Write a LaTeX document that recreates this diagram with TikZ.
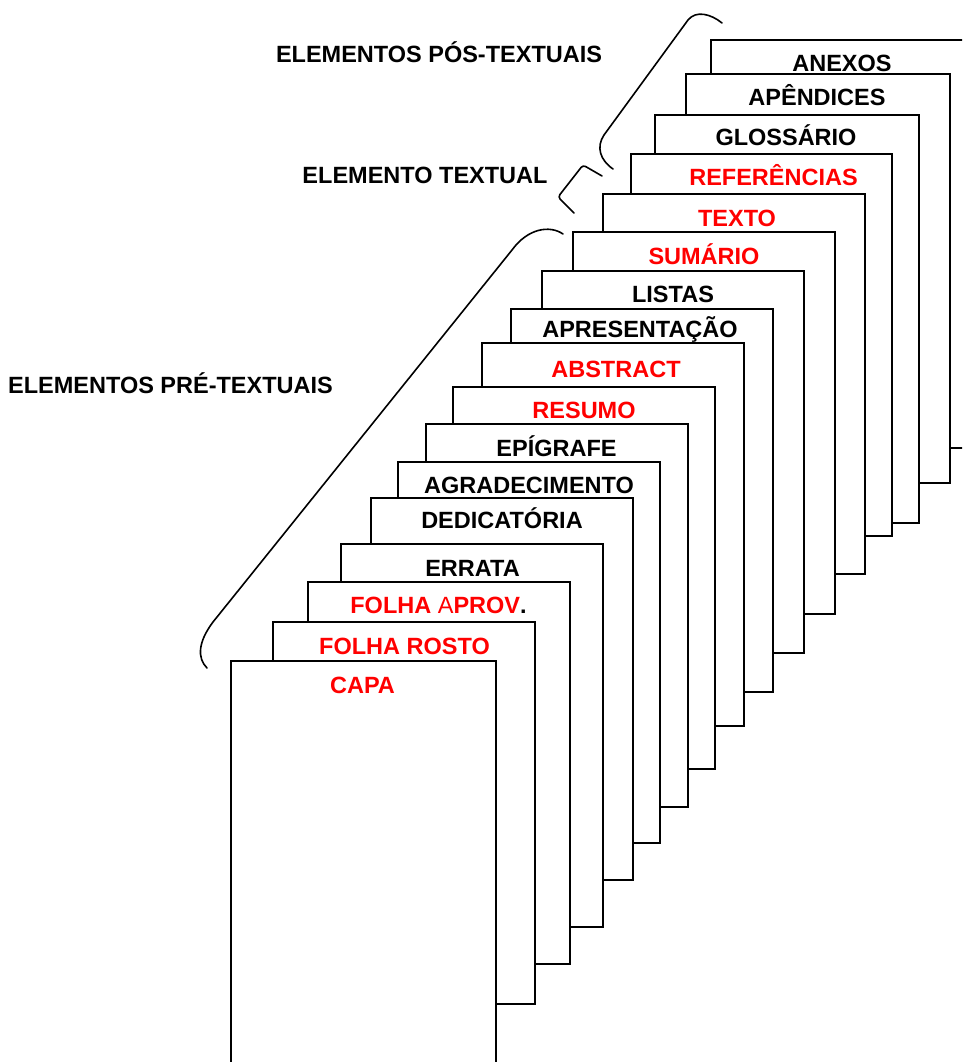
\documentclass[tikz,border=0pt]{standalone}
\usepackage{fontspec}
\setmainfont{Liberation Sans}
\usetikzlibrary{positioning}
\definecolor{mandatorycolor}{RGB}{255,0,0}

\begin{document}
\begin{tikzpicture}[
    x=1pt, y=-1pt,
    page/.style={draw, fill=white, line width=1.8pt},
    brace/.style={line width=1.6pt, line join=round, line cap=round},
    entry/.style={font=\fontsize{23.5}{28}\selectfont\bfseries, anchor=base, inner sep=0pt},
    mandatory/.style={entry, text=mandatorycolor}
]
    \useasboundingbox (0,0) rectangle (962,1062);
    \clip (0,0) rectangle (962,1062);

    % Pages, back to front
    \draw[page] (711,40) rectangle (980,448);
    \draw[page] (686,74) rectangle (950,483);
    \draw[page] (655,115) rectangle (919,523);
    \draw[page] (631,154) rectangle (892,536);
    \draw[page] (603,194) rectangle (865,574);
    \draw[page] (573,232) rectangle (835,614);
    \draw[page] (542,271) rectangle (804,653);
    \draw[page] (511,309) rectangle (773,692);
    \draw[page] (482,343) rectangle (744,726);
    \draw[page] (453,387) rectangle (715,769);
    \draw[page] (426,424) rectangle (688,807);
    \draw[page] (398,462) rectangle (660,843);
    \draw[page] (371,498) rectangle (633,880);
    \draw[page] (341,544) rectangle (603,927);
    \draw[page] (308,582) rectangle (570,964);
    \draw[page] (273,622) rectangle (535,1004);
    \draw[page] (231,661) rectangle (496,1090);

    % Page labels
    \node[entry] (anexos) at (842,72) {ANEXOS};
    \node[entry] (apendices) at (817,106) {APÊNDICES};
    \node[entry] (glossario) at (786,146) {GLOSSÁRIO};
    \node[mandatory] (referencias) at (773.5,185) {REFERÊNCIAS};
    \node[mandatory] (texto) at (737,226) {TEXTO};
    \node[mandatory] (sumario) at (704,264) {SUMÁRIO};
    \node[entry] (listas) at (673,302) {LISTAS};
    \node[entry] (apresentacao) at (640,337) {APRESENTAÇÃO};
    \node[mandatory] (abstract) at (616,377) {ABSTRACT};
    \node[mandatory] (resumo) at (584,418) {RESUMO};
    \node[entry] (epigrafe) at (556.5,456) {EPÍGRAFE};
    \node[entry] (agradecimento) at (529,493) {AGRADECIMENTO};
    \node[entry] (dedicatoria) at (502,528) {DEDICATÓRIA};
    \node[entry] (errata) at (472.5,576) {ERRATA};
    \node[mandatory] (aprovacao) at (438.5,613) {FOLHA {\mdseries A}PROV\textcolor{black}{.}};
    \node[mandatory] (rosto) at (404.5,654) {FOLHA ROSTO};
    \node[mandatory] (capa) at (362.5,693) {CAPA};

    % Group titles
    \node[entry] (pos) at (439,63) {ELEMENTOS PÓS-TEXTUAIS};
    \node[entry] (textual) at (425,183) {ELEMENTO TEXTUAL};
    \node[entry] (pre) at (170.5,393) {ELEMENTOS PRÉ-TEXTUAIS};

    % Braces
    \draw[brace] (722,23) .. controls (711,14) and (696,10) .. (688,20)
        -- (604,135) .. controls (596,147) and (600,160) .. (613,169);
    \draw[brace, rounded corners=3pt] (602,176) -- (583,165) -- (558,197) -- (574,213);
    \draw[brace] (563,234) .. controls (550,225) and (528,228) .. (512,250)
        -- (213,622) .. controls (198,642) and (197,658) .. (207,668);
\end{tikzpicture}
\end{document}
